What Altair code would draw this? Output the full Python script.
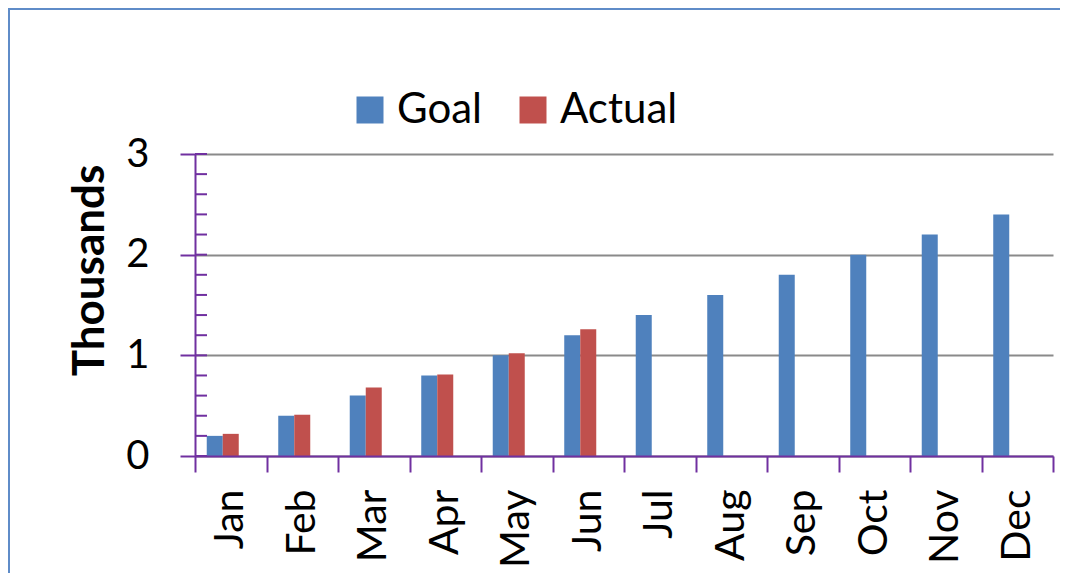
import altair as alt
import pandas as pd

months = ["Jan", "Feb", "Mar", "Apr", "May", "Jun", "Jul", "Aug", "Sep", "Oct", "Nov", "Dec"]
goal = [0.2, 0.4, 0.6, 0.8, 1.0, 1.2, 1.4, 1.6, 1.8, 2.0, 2.2, 2.4]
actual = [0.22, 0.41, 0.68, 0.81, 1.02, 1.26]
series_names = ["Goal", "Actual"]
series_colors = ["#4F81BD", "#C0504D"]
y_ticks = [0, 1, 2, 3]
minor_ticks = [0, 0.2, 0.4, 0.6, 0.8, 1.0, 1.2, 1.4, 1.6, 1.8, 2.0,
               2.2, 2.4, 2.6, 2.8, 3.0]

rows = []
for m, v in zip(months, goal):
    rows.append({"month": m, "series": "Goal", "value": v})
for m, v in zip(months, actual):
    rows.append({"month": m, "series": "Actual", "value": v})
df = pd.DataFrame(rows)
tick_df = pd.DataFrame({"tick": minor_ticks})

PURPLE = "#7030A0"
FONT = "Lato"

y_scale = alt.Scale(domain=[0, 3], nice=False)
y_axis = alt.Axis(title="Thousands", values=y_ticks,
                  domainColor=PURPLE, domainWidth=2,
                  tickColor=PURPLE, tickWidth=2, tickSize=15,
                  labelPadding=31, labelFontSize=40, labelFont=FONT,
                  labelColor="#000000",
                  grid=True, gridColor="#8A8A8A", gridWidth=2,
                  titleFont=FONT, titleFontSize=44, titleFontWeight="bold",
                  titleColor="#000000", titleAngle=270,
                  titleX=-105, titleY=116, titleAlign="center",
                  titleBaseline="middle", zindex=0)

frame = alt.Chart(alt.Data(values=[{}])).mark_rect(
    fillOpacity=0, stroke="#5F8CC8", strokeWidth=2
).encode(
    x=alt.value(-186), x2=alt.value(1100), y=alt.value(-145), y2=alt.value(600)
)

bars = alt.Chart(df).mark_bar().encode(
    x=alt.X("month:N", sort=months,
            scale=alt.Scale(paddingInner=0, paddingOuter=0),
            axis=alt.Axis(title=None, labelAngle=270, tickBand="extent",
                          domainColor=PURPLE, domainWidth=2,
                          tickColor=PURPLE, tickWidth=2, tickSize=16,
                          labelPadding=17, labelFontSize=41, labelFont=FONT,
                          labelColor="#000000", grid=False, zindex=1)),
    xOffset=alt.XOffset("series:N",
                        scale=alt.Scale(domain=["Goal", "Actual", "Blank"],
                                        paddingInner=0, paddingOuter=0.734)),
    y=alt.Y("value:Q", scale=y_scale, axis=y_axis),
    color=alt.Color("series:N",
                    scale=alt.Scale(domain=series_names, range=series_colors),
                    legend=alt.Legend(title=None, orient="none", legendX=154,
                                      legendY=-65, direction="horizontal",
                                      symbolType="square", symbolSize=729,
                                      symbolStrokeWidth=0, labelFontSize=42,
                                      labelFont=FONT, labelColor="#000000",
                                      labelOffset=6, columnPadding=29,
                                      padding=0)),
)

minor = alt.Chart(tick_df).mark_rule(color=PURPLE, strokeWidth=2).encode(
    y=alt.Y("tick:Q", scale=y_scale, axis=y_axis),
    x=alt.value(0), x2=alt.value(12),
)

chart = alt.layer(frame, bars, minor).properties(
    width=858, height=302,
    autosize=alt.AutoSizeParams(type="none"),
    padding={"left": 187, "top": 146, "right": 7, "bottom": 117},
).configure_view(strokeWidth=0)

chart.save("out.html", embed_options={"renderer": "svg", "actions": False})
